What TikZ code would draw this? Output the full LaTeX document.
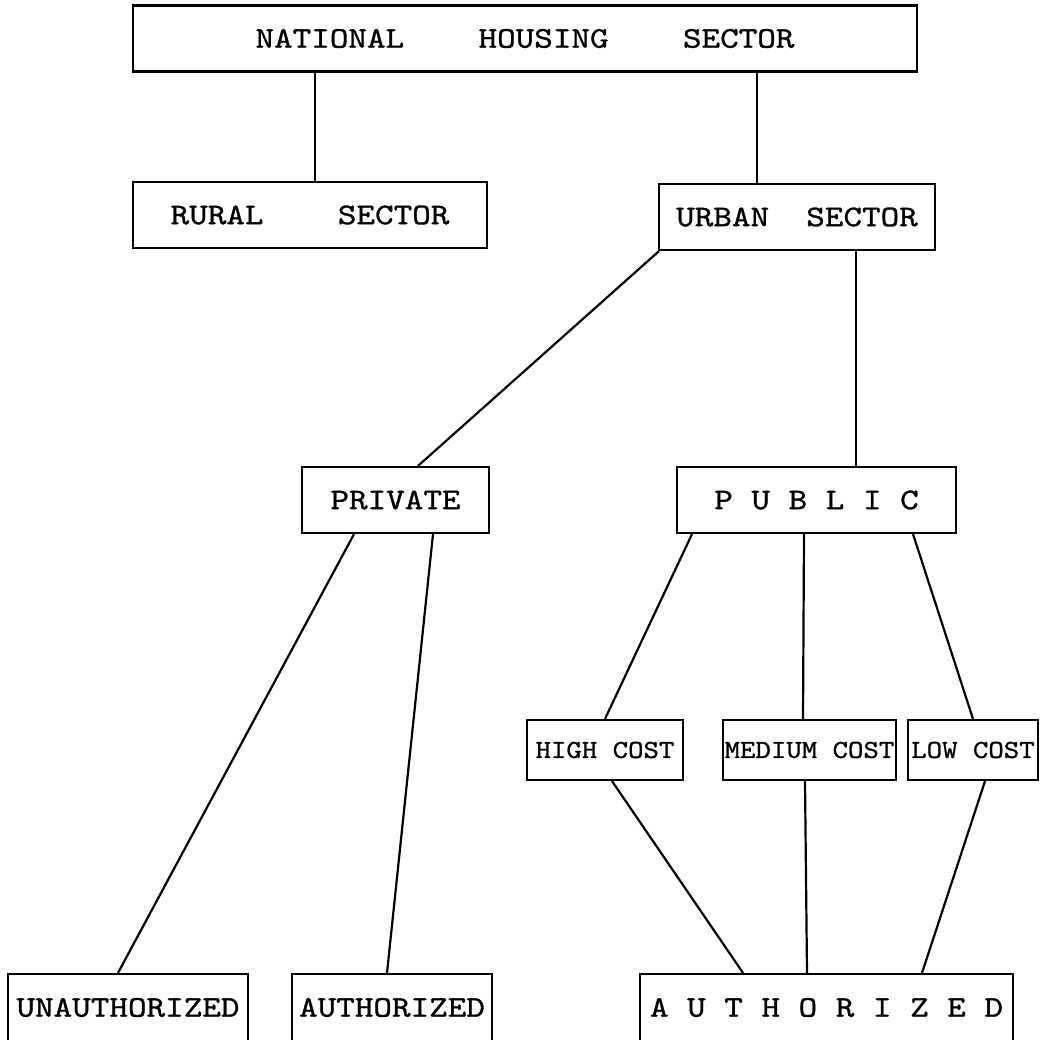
\documentclass[tikz,border=0pt]{standalone}
\usepackage{fontspec}
\newfontfamily\typew[Extension=.otf, FakeStretch=1.18, FakeBold=1]{lmmono10-regular}
\newfontfamily\typecost[Extension=.otf, FakeStretch=1.13, FakeBold=1]{lmmono10-regular}
\usetikzlibrary{positioning}

\begin{document}
\begin{tikzpicture}[x=1pt, y=-1pt, line width=2.2pt,
  box/.style={draw, rectangle, inner sep=0pt, minimum height=66pt,
    font=\typew\fontsize{30}{36}\selectfont},
  costbox/.style={box, minimum height=60pt, font=\typecost\fontsize{26}{30}\selectfont}]
  \useasboundingbox (0,0) rectangle (1046,1039);
  \clip (0,0) rectangle (1046,1039);
  \node[box, minimum width=784pt] (nat) at (525,38.5) {NATIONAL~~~~HOUSING~~~~SECTOR};
  \node[box, minimum width=354pt] (rural) at (310,215) {RURAL~~~~SECTOR};
  \node[box, minimum width=276pt] (urban) at (797,217) {URBAN~~SECTOR};
  \node[box, minimum width=187pt] (priv) at (395.5,500) {PRIVATE};
  \node[box, minimum width=279pt] (pub) at (816.5,500) {P~U~B~L~I~C};
  \node[costbox, minimum width=156pt] (high) at (605,750) {HIGH COST};
  \node[costbox, minimum width=173pt] (medium) at (809.5,750) {MEDIUM COST};
  \node[costbox, minimum width=130pt] (low) at (973,750) {LOW COST};
  \node[box, minimum width=240pt, minimum height=67pt] (unauth) at (128,1007.5) {UNAUTHORIZED};
  \node[box, minimum width=200pt, minimum height=67pt] (privauth) at (392,1007.5) {AUTHORIZED};
  \node[box, minimum width=373pt, minimum height=67pt] (pubauth) at (826.5,1007.5) {A~U~T~H~O~R~I~Z~E~D};
  % connectors: upper box / shift / lower box / shift
  \foreach \a/\sa/\b/\sb in {nat/-210/rural/5, nat/232/urban/-40,
      urban/-138/priv/22.5, urban/59/pub/39.5,
      priv/-41.5/unauth/-10, priv/37.5/privauth/-5,
      pub/-124.5/high/0, pub/-12.5/medium/-6.5, pub/96.5/low/0,
      high/7/pubauth/-83.5, medium/-4.5/pubauth/-19.5, low/12/pubauth/95.5}
    \draw ([xshift=\sa pt]\a.south) -- ([xshift=\sb pt]\b.north);
\end{tikzpicture}
\end{document}
